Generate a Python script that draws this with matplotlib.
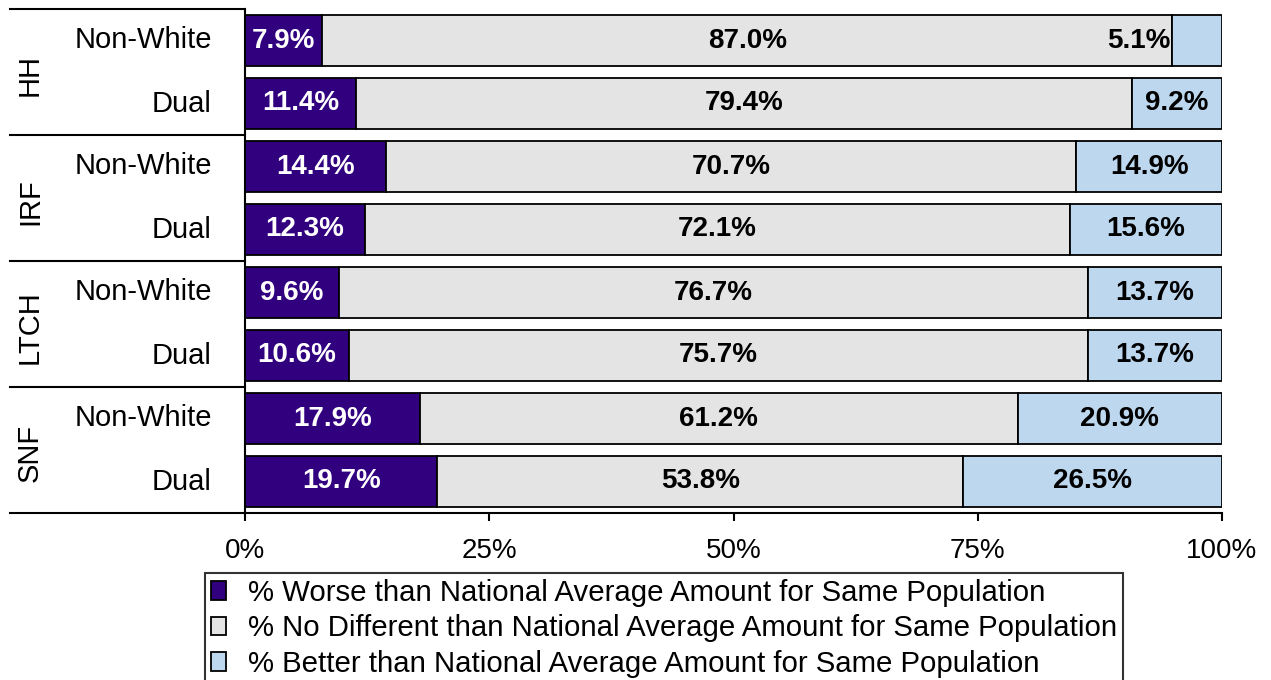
import matplotlib
matplotlib.use("Agg")
import matplotlib.pyplot as plt
from matplotlib.patches import Patch
from matplotlib.transforms import blended_transform_factory

plt.rcParams['font.family'] = ['Liberation Sans', 'DejaVu Sans']

# Data
groups = ['HH', 'IRF', 'LTCH', 'SNF']
subgroups = ['Non-White', 'Dual']
worse = [7.9, 11.4, 14.4, 12.3, 9.6, 10.6, 17.9, 19.7]
no_diff = [87.0, 79.4, 70.7, 72.1, 76.7, 75.7, 61.2, 53.8]
better = [5.1, 9.2, 14.9, 15.6, 13.7, 13.7, 20.9, 26.5]
series_names = [
    '% Worse than National Average Amount for Same Population',
    '% No Different than National Average Amount for Same Population',
    '% Better than National Average Amount for Same Population',
]
xticks = [0, 25, 50, 75, 100]

colors = ['#31007f', '#e4e4e4', '#bdd7ee']
text_colors = ['white', 'black', 'black']

fig = plt.figure(figsize=(12.71, 6.80), dpi=100)
ax = fig.add_axes([245 / 1271, 1 - 513 / 680, 977 / 1271, 504 / 680])

n = len(worse)
ypos = list(range(n))
bar_h = 0.82
left = [0.0] * n
for k, vals in enumerate([worse, no_diff, better]):
    bars = ax.barh(ypos, vals, left=left, height=bar_h, color=colors[k],
                   edgecolor='black', linewidth=1.3, label=series_names[k], zorder=2)
    for i, (b, v) in enumerate(zip(bars, vals)):
        x0 = left[i]
        txt = f'{v:.1f}%'
        width_px = v / 100 * 977
        if width_px < 62:
            # narrow segment: place label just left of it
            ax.text(x0 - 0.2, i, txt, ha='right', va='center', fontsize=20,
                    fontweight='bold', color='black', zorder=3)
        else:
            ax.text(x0 + v / 2, i, txt, ha='center', va='center', fontsize=20,
                    fontweight='bold', color=text_colors[k], zorder=3)
    left = [l + v for l, v in zip(left, vals)]

ax.set_xlim(0, 100)
ax.set_ylim(n - 0.5, -0.5)
ax.set_xticks(xticks)
ax.set_xticklabels([f'{t}%' for t in xticks], fontsize=20)
ax.tick_params(axis='x', direction='out', length=6, width=1.5, pad=12)
ax.set_yticks([])
for s in ['top', 'right']:
    ax.spines[s].set_visible(False)
ax.spines['left'].set_linewidth(1.5)
ax.spines['bottom'].set_linewidth(1.5)

# Category table on the left
tr = blended_transform_factory(ax.transAxes, ax.transData)
x_table = (10 - 245) / 977
for yb in [-0.5, 1.5, 3.5, 5.5, 7.5]:
    ax.plot([x_table, 0], [yb, yb], color='black', lw=1.5, transform=tr,
            clip_on=False, zorder=4)
for g, name in enumerate(groups):
    ax.text((30 - 245) / 977, 2 * g + 0.55, name, rotation=90, ha='center',
            va='center', fontsize=21, transform=tr)
    for s, sub in enumerate(subgroups):
        ax.text((212 - 245) / 977, 2 * g + s, sub, ha='right', va='center',
                fontsize=21, transform=tr)

# Legend below the chart
handles = [Patch(facecolor=c, edgecolor='black', linewidth=1.3) for c in colors]
leg = fig.legend(handles, series_names, loc='upper left',
                 bbox_to_anchor=(205 / 1271, 1 - 573 / 680), fontsize=21.2,
                 frameon=True, fancybox=False, edgecolor='black',
                 handlelength=0.5, handleheight=0.6, handletextpad=0.75,
                 labelspacing=0.25, borderpad=0.2, borderaxespad=0)
leg.get_frame().set_linewidth(1.5)

fig.savefig('out.png', dpi=100)
